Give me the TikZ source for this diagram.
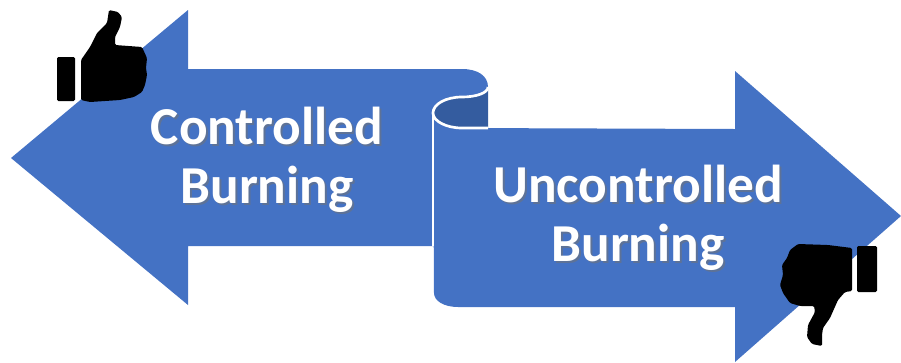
\documentclass[tikz,border=0pt]{standalone}
\usepackage{fontspec}
\setmainfont{Carlito}
\definecolor{ribbonblue}{HTML}{4472C4}
\definecolor{ribbondark}{HTML}{345C9F}
\tikzset{
  ribbon/.style={fill=ribbonblue},
  rim/.style={draw=white, line width=2pt},
  label/.style={text=white, font=\bfseries\fontsize{40}{44.5}\selectfont, align=center},
  labelshadow/.style={text=black!55, opacity=0.55, font=\bfseries\fontsize{40}{44.5}\selectfont, align=center},
  thumb/.style={fill=black}
}
\begin{document}
\begin{tikzpicture}[x=0.75pt, y=-0.75pt]
    \useasboundingbox (0,0) rectangle (901,362);
    % left arrow
    \fill[ribbon] (11,158) -- (188,10) -- (188,69) -- (462,69) .. controls (478,69) and (488,76) .. (488,87)
        .. controls (488,93) and (476,97) .. (462,97) .. controls (446,97) and (433,104) .. (433,113) -- (433,246) -- (188,246) -- (188,305) -- cycle;
    % back of the fold
    \fill[ribbondark] (488,87) -- (488,128) -- (462,128) .. controls (446,128) and (433,121) .. (433,113)
        .. controls (433,104) and (446,97) .. (462,97) .. controls (476,97) and (488,93) .. (488,87) -- cycle;
    % right arrow
    \fill[ribbon] (433,113) .. controls (433,121) and (446,128) .. (462,128) -- (735,129) -- (735,71) -- (901,216) -- (735,362) -- (735,307)
        -- (458,307) .. controls (444,307) and (434,301) .. (434,293) -- cycle;
    \draw[rim] (488,87) .. controls (488,93) and (476,97) .. (462,97) .. controls (446,97) and (433,104) .. (433,113)
        .. controls (433,121) and (446,128) .. (462,128) -- (488,128);
    \draw[rim] (433,113) -- (433,246);
    % thumbs
    \fill[thumb, rounded corners=1pt] (57,57) rectangle (75,101);
    \fill[thumb, rounded corners=1pt] (81,60) -- (90,47) -- (97,33) -- (107,23) -- (109,10) -- (118,12) -- (122,17) -- (120,27) -- (115,37) -- (115,45)
        -- (142,47) -- (147,58) -- (146,68) -- (147,75) -- (145,85) -- (142,92) -- (134,97) -- (120,100) -- (90,102) -- (81,100) -- cycle;
    \fill[thumb, rounded corners=1pt] (857,246) rectangle (877,292);
    \fill[thumb, rounded corners=1pt] (852,248) -- (828,245) -- (798,244) -- (790,250) -- (787,258) -- (782,265) -- (783,275) -- (780,285) -- (783,293)
        -- (790,303) -- (800,306) -- (814,306) -- (815,312) -- (808,325) -- (807,337) -- (812,344) -- (822,346) -- (822,335) -- (823,328) -- (830,318)
        -- (838,300) -- (845,292) -- (852,291) -- cycle;
    % labels
    \node[labelshadow] (controlledshadow) at (269,162) {Controlled\\Burning};
    \node[labelshadow] (uncontrolledshadow) at (640,220) {Uncontrolled\\Burning};
    \node[label] (controlled) at (267,160) {Controlled\\Burning};
    \node[label] (uncontrolled) at (638,218) {Uncontrolled\\Burning};
\end{tikzpicture}
\end{document}
